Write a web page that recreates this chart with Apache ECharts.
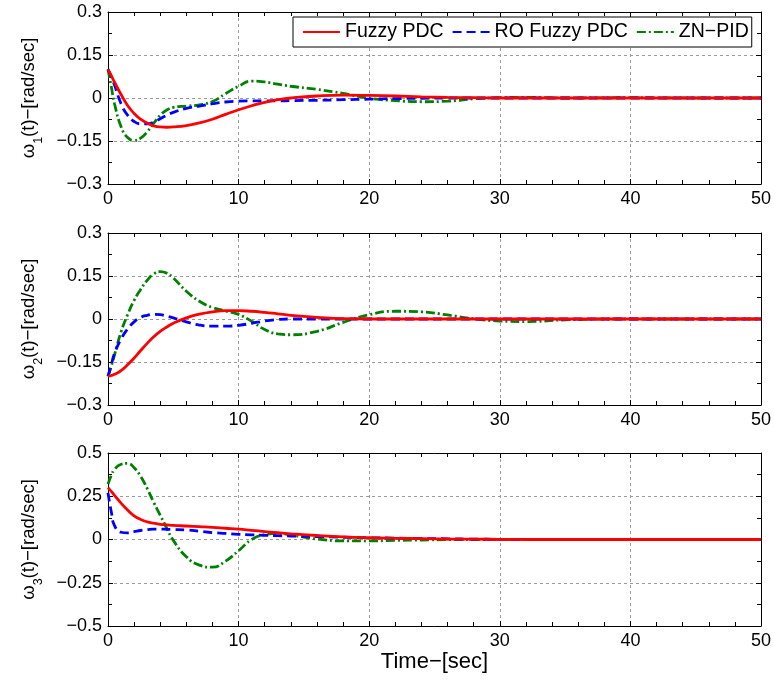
<!DOCTYPE html>
<html>
<head>
<meta charset="utf-8">
<script src="https://cdn.jsdelivr.net/npm/echarts@6/dist/echarts.min.js"></script>
<style>html,body{margin:0;padding:0;background:#fff;}#c{width:774px;height:682px;}</style>
</head>
<body>
<div id="c"></div>
<script>
// time samples (sec)
var time = [0,0.25,0.5,1,1.5,2,2.5,3,3.5,4,4.5,5,6,7,8,9,10,11,12,13,14,16,18,20,22,24,26,28,30,32,35,40,45,50];

// omega_1
var w1Fuzzy = [0.1,0.078,0.055,0.012,-0.026,-0.054,-0.074,-0.088,-0.097,-0.101,-0.102,-0.101,-0.096,-0.087,-0.074,-0.057,-0.041,-0.027,-0.015,-0.006,0,0.007,0.01,0.009,0.007,0.004,0.002,0.001,0,0,0,0,0,0];
var w1RO    = [0.1,0.075,0.045,-0.02,-0.06,-0.082,-0.09,-0.09,-0.084,-0.072,-0.06,-0.05,-0.036,-0.028,-0.02,-0.014,-0.011,-0.01,-0.01,-0.01,-0.009,-0.008,-0.006,-0.004,-0.002,-0.001,0,0,0,0,0,0,0,0];
var w1PID   = [0.1,0.04,-0.02,-0.1,-0.138,-0.148,-0.14,-0.118,-0.088,-0.06,-0.042,-0.033,-0.028,-0.024,-0.012,0.015,0.041,0.059,0.056,0.048,0.041,0.03,0.016,-0.001,-0.009,-0.013,-0.011,-0.003,0.001,0.002,0,0.001,0,0];

// omega_2
var w2Fuzzy = [-0.2,-0.197,-0.193,-0.18,-0.16,-0.136,-0.11,-0.085,-0.062,-0.043,-0.028,-0.015,0.004,0.017,0.025,0.029,0.029,0.027,0.023,0.018,0.013,0.006,0.001,0,0,0,0,0,0,0,0,0,0,0];
var w2RO    = [-0.2,-0.16,-0.12,-0.07,-0.035,-0.01,0.006,0.013,0.016,0.015,0.01,0.004,-0.01,-0.021,-0.025,-0.025,-0.022,-0.015,-0.007,-0.002,0,0,0,0,0,0,0,0,0,0,0,0,0,0];
var w2PID   = [-0.2,-0.165,-0.125,-0.045,0.015,0.065,0.103,0.135,0.157,0.165,0.16,0.143,0.097,0.062,0.04,0.028,0.016,-0.008,-0.037,-0.052,-0.055,-0.043,-0.012,0.015,0.027,0.025,0.014,0.001,-0.007,-0.009,-0.003,0,0,0];

// omega_3
var w3Fuzzy = [0.3,0.278,0.255,0.21,0.17,0.137,0.116,0.102,0.094,0.088,0.085,0.082,0.078,0.074,0.07,0.065,0.06,0.053,0.046,0.039,0.033,0.023,0.015,0.01,0.007,0.005,0.003,0.002,0.001,0,0,0,0,0];
var w3RO    = [0.27,0.16,0.08,0.042,0.038,0.045,0.052,0.057,0.06,0.06,0.059,0.058,0.055,0.048,0.04,0.035,0.03,0.027,0.024,0.022,0.02,0.017,0.013,0.01,0.008,0.006,0.004,0.002,0.001,0,0,0,0,0];
var w3PID   = [0.32,0.37,0.405,0.435,0.44,0.415,0.365,0.295,0.215,0.14,0.065,-0.005,-0.1,-0.148,-0.16,-0.125,-0.065,0,0.028,0.035,0.026,0.003,-0.008,-0.008,-0.005,-0.003,-0.001,0,0,0,0,0,0,0];

var seriesNames = ['Fuzzy PDC', 'RO Fuzzy PDC', 'ZN\u2212PID'];
var yMins = [-0.3, -0.3, -0.5];
var yMaxs = [0.3, 0.3, 0.5];
var yIntervals = [0.15, 0.15, 0.25];
var ySubs = ['1', '2', '3'];
var xTicks = [0, 50, 10];
var xLabel = 'Time\u2212[sec]';

var panels = [[w1Fuzzy, w1RO, w1PID], [w2Fuzzy, w2RO, w2PID], [w3Fuzzy, w3RO, w3PID]];

var FONT = '"Liberation Sans", Arial, Helvetica, sans-serif';
var colors = ['#ff0000', '#0000ff', '#008000'];
var dashes = ['solid', [9, 5], [9, 3, 2, 3]];

function fmt(v) {
  var s = (Math.round(v * 1000) / 1000).toString();
  return s.replace('-', '\u2212');
}

var grids = [
  {left: 108, right: 13, top: 12, height: 172},
  {left: 108, right: 13, top: 233, height: 172},
  {left: 108, right: 13, top: 453, height: 173}
];

var xAxes = [], yAxes = [], series = [];
var blk = {color: '#000', width: 1};
for (var g = 0; g < 3; g++) {
  xAxes.push({
    type: 'value', gridIndex: g, min: xTicks[0], max: xTicks[1], interval: xTicks[2], position: 'bottom',
    axisLine: {show: true, onZero: false, lineStyle: blk},
    axisTick: {show: true, inside: true, length: 5, lineStyle: blk},
    minorTick: {show: true, splitNumber: 5, length: 4, lineStyle: blk},
    splitLine: {show: true, lineStyle: {color: '#9a9a9a', type: [3, 3], width: 1}},
    axisLabel: {show: true, margin: 6, fontSize: 18, color: '#000', fontFamily: FONT, formatter: fmt},
    name: g === 2 ? xLabel : '', nameLocation: 'middle', nameGap: 20,
    nameTextStyle: {fontSize: 22, color: '#000', fontFamily: FONT, verticalAlign: 'top'}
  });
  xAxes.push({
    type: 'value', gridIndex: g, min: xTicks[0], max: xTicks[1], interval: xTicks[2], position: 'top',
    axisLine: {show: true, onZero: false, lineStyle: blk},
    axisTick: {show: true, inside: true, length: 5, lineStyle: blk},
    minorTick: {show: true, splitNumber: 5, length: 4, lineStyle: blk},
    splitLine: {show: false}, axisLabel: {show: false}
  });
  yAxes.push({
    type: 'value', gridIndex: g, min: yMins[g], max: yMaxs[g], interval: yIntervals[g], position: 'left',
    axisLine: {show: true, onZero: false, lineStyle: blk},
    axisTick: {show: true, inside: true, length: 5, lineStyle: blk},
    minorTick: {show: true, splitNumber: 2, length: 4, lineStyle: blk},
    splitLine: {show: true, lineStyle: {color: '#9a9a9a', type: [3, 3], width: 1}},
    axisLabel: {show: true, margin: 6, fontSize: 18, color: '#000', fontFamily: FONT, formatter: fmt},
    name: '{a|\u03c9}{s|' + ySubs[g] + '}{a|(t)\u2212[rad/sec]}',
    nameLocation: 'middle', nameGap: 63, nameRotate: 90,
    nameTextStyle: {
      color: '#000', fontFamily: FONT,
      rich: {
        a: {fontSize: 18.5, color: '#000', fontFamily: FONT, lineHeight: 26, verticalAlign: 'top'},
        s: {fontSize: 12.5, color: '#000', fontFamily: FONT, lineHeight: 26, verticalAlign: 'bottom'}
      }
    }
  });
  yAxes.push({
    type: 'value', gridIndex: g, min: yMins[g], max: yMaxs[g], interval: yIntervals[g], position: 'right',
    axisLine: {show: true, onZero: false, lineStyle: blk},
    axisTick: {show: true, inside: true, length: 5, lineStyle: blk},
    minorTick: {show: true, splitNumber: 2, length: 4, lineStyle: blk},
    splitLine: {show: false}, axisLabel: {show: false}
  });
  for (var s = 0; s < 3; s++) {
    var vals = panels[g][s];
    series.push({
      name: seriesNames[s], type: 'line', xAxisIndex: 2 * g, yAxisIndex: 2 * g,
      data: time.map(function (t, k) { return [t, vals[k]]; }),
      showSymbol: false, symbol: 'none', smooth: 0.5,
      lineStyle: {color: colors[s], width: 2.8, type: dashes[s]},
      itemStyle: {color: colors[s]},
      z: 3 + (2 - s), animation: false
    });
  }
}

var chart = echarts.init(document.getElementById('c'), null, {renderer: 'canvas'});
chart.setOption({
  animation: false,
  backgroundColor: '#fff',
  grid: grids,
  xAxis: xAxes,
  yAxis: yAxes,
  legend: {
    data: seriesNames, left: 293, top: 17, orient: 'horizontal',
    itemWidth: 37, itemHeight: 14, itemGap: 8,
    padding: [5, 3, 5, 9],
    itemStyle: {opacity: 0},
    lineStyle: {opacity: 1},
    backgroundColor: '#fff', borderColor: '#000', borderWidth: 1,
    textStyle: {fontSize: 19.5, color: '#000', fontFamily: FONT}
  },
  series: series
});
</script>
</body>
</html>
